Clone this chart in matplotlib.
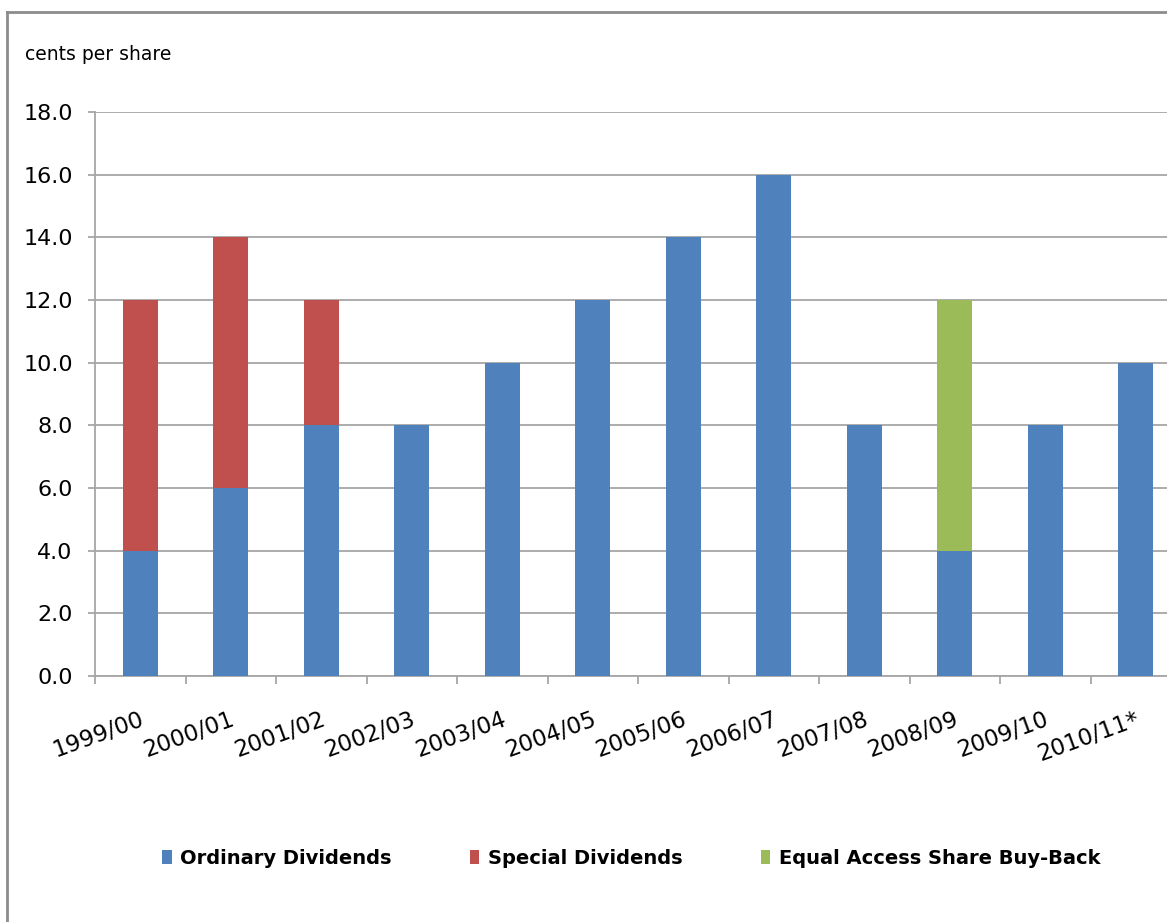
import matplotlib
matplotlib.use("Agg")
import matplotlib.pyplot as plt
import numpy as np
from matplotlib.patches import Patch
from matplotlib.lines import Line2D
import matplotlib.transforms as mtransforms

categories = ["1999/00", "2000/01", "2001/02", "2002/03", "2003/04", "2004/05",
              "2005/06", "2006/07", "2007/08", "2008/09", "2009/10", "2010/11*"]
ordinary = [4, 6, 8, 8, 10, 12, 14, 16, 8, 4, 8, 10]
special = [8, 8, 4, 0, 0, 0, 0, 0, 0, 0, 0, 0]
buyback = [0, 0, 0, 0, 0, 0, 0, 0, 0, 8, 0, 0]
series_names = ["Ordinary Dividends", "Special Dividends", "Equal Access Share Buy-Back"]
colors = ["#4F81BD", "#C0504D", "#9BBB59"]
yticks = [0, 2, 4, 6, 8, 10, 12, 14, 16, 18]

W, H = 1167, 922
fig = plt.figure(figsize=(W / 100, H / 100), dpi=100)
fig.patch.set_facecolor("white")

# outer border (left and top visible)
border_c = "#8c8c8c"
fig.add_artist(Line2D([7 / W, 7 / W], [0, 1 - 12 / H], transform=fig.transFigure,
                      color=border_c, lw=2.0))
fig.add_artist(Line2D([7 / W, 1.0], [1 - 12 / H, 1 - 12 / H], transform=fig.transFigure,
                      color=border_c, lw=2.0))

left, right = 95 / W, 1181 / W
bottom, top = 1 - 676 / H, 1 - 112 / H
ax = fig.add_axes([left, bottom, right - left, top - bottom])

x = np.arange(len(categories))
bw = 0.39
o = np.array(ordinary, float)
s = np.array(special, float)
b = np.array(buyback, float)
ax.bar(x, o, width=bw, color=colors[0], zorder=3)
ax.bar(x, s, width=bw, bottom=o, color=colors[1], zorder=3)
ax.bar(x, b, width=bw, bottom=o + s, color=colors[2], zorder=3)

ax.set_xlim(-0.5, len(categories) - 0.5)
ax.set_ylim(0, 18)
ax.set_yticks(yticks)
ax.set_yticklabels([f"{v:.1f}" for v in yticks], fontsize=16)
grid_c = "#a6a6a6"
ax.yaxis.grid(True, color=grid_c, lw=1.3, zorder=0)
ax.tick_params(axis="y", length=5, width=1.3, color=grid_c, pad=11)

for sp in ["top", "right"]:
    ax.spines[sp].set_visible(False)
for sp in ["left", "bottom"]:
    ax.spines[sp].set_color(grid_c)
    ax.spines[sp].set_linewidth(1.3)

# category labels at centers, tick marks at boundaries
ax.set_xticks(x)
ax.set_xticklabels(categories, fontsize=16.5, rotation=20, ha="right",
                   rotation_mode="anchor")
ax.tick_params(axis="x", which="major", length=0, pad=23)
ax.set_xticks(np.arange(len(categories)) - 0.5, minor=True)
ax.tick_params(axis="x", which="minor", length=6, width=1.3, color=grid_c, direction="out")
offset = mtransforms.ScaledTranslation(-1 / 100, 0, fig.dpi_scale_trans)
for lbl in ax.get_xticklabels():
    lbl.set_transform(lbl.get_transform() + offset)

fig.text(25 / W, 1 - 55 / H, "cents per share", fontsize=13.5, ha="left", va="center")

handles = [Patch(facecolor=c, edgecolor="none") for c in colors]
fig.legend(handles, series_names, loc="center left", bbox_to_anchor=(162 / W, 1 - 858 / H),
           ncol=3, frameon=False, prop={"weight": "bold", "size": 14},
           handlelength=0.5, handleheight=0.7, handletextpad=0.45, columnspacing=4.0,
           borderaxespad=0, borderpad=0)

fig.savefig("out.png", dpi=100, facecolor="white")
